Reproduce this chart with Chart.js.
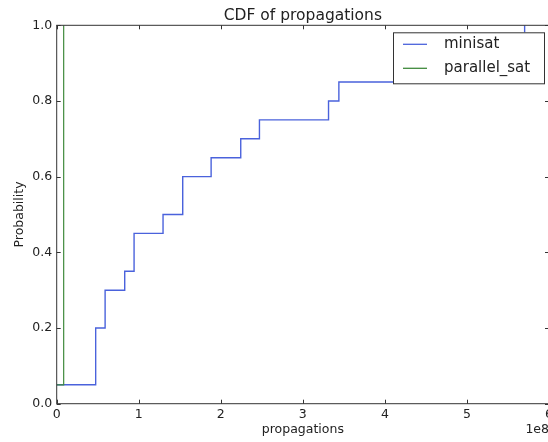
<!DOCTYPE html>
<html>
<head>
<meta charset="utf-8">
<script src="https://cdn.jsdelivr.net/npm/chart.js@4"></script>
<style>
  html, body { margin: 0; padding: 0; background: #fff; overflow: hidden; }
  #cdfChart { display: block; }
</style>
</head>
<body>
<canvas id="cdfChart" width="552" height="442"></canvas>
<script>
// CDF of propagations (x in units of 1e8)
const minisatX = [0, 0.475, 0.59, 0.829, 0.943, 1.296, 1.536, 1.882, 2.243, 2.471, 3.313, 3.439, 5.703];
const minisatY = [0.05, 0.2, 0.3, 0.35, 0.45, 0.5, 0.6, 0.65, 0.7, 0.75, 0.8, 0.85, 1.0];
const parallelX = [0, 0.085];
const parallelY = [0.05, 1.0];

const xTicks = [0, 1, 2, 3, 4, 5, 6];
const yTicks = [0.0, 0.2, 0.4, 0.6, 0.8, 1.0];
const seriesNames = ['minisat', 'parallel_sat'];
const seriesColors = ['#4a62dc', '#3f8a3c'];

const FONT = 'DejaVu Sans';
const toPoints = (xs, ys) => xs.map((x, i) => ({ x: x, y: ys[i] }));

// frame + inward tick marks + "1e8" offset text + boxed legend
const framePlugin = {
    id: 'frame',
    afterDraw(chart) {
        const { ctx, chartArea: a, scales } = chart;
        ctx.save();
        ctx.strokeStyle = '#333';
        ctx.lineWidth = 1;
        ctx.strokeRect(a.left, a.top, a.right - a.left, a.bottom - a.top);

        const len = 4;
        ctx.beginPath();
        xTicks.forEach(v => {
            const px = Math.round(scales.x.getPixelForValue(v)) + 0.5;
            ctx.moveTo(px, a.bottom); ctx.lineTo(px, a.bottom - len);
            ctx.moveTo(px, a.top); ctx.lineTo(px, a.top + len);
        });
        yTicks.forEach(v => {
            const py = Math.round(scales.y.getPixelForValue(v)) + 0.5;
            ctx.moveTo(a.left, py); ctx.lineTo(a.left + len, py);
            ctx.moveTo(a.right, py); ctx.lineTo(a.right - len, py);
        });
        ctx.stroke();

        ctx.fillStyle = '#222';
        ctx.font = '12.5px "' + FONT + '"';
        ctx.textAlign = 'right';
        ctx.textBaseline = 'middle';
        ctx.fillText('1e8', a.right, 430);

        // legend box in the upper right corner
        const bx = a.right - 156, by = a.top + 7, bw = 151, bh = 51;
        ctx.fillStyle = '#fff';
        ctx.fillRect(bx, by, bw, bh);
        ctx.strokeRect(bx + 0.5, by + 0.5, bw, bh);
        ctx.font = '15px "' + FONT + '"';
        ctx.textAlign = 'left';
        seriesNames.forEach((name, i) => {
            const ly = by + 12 + i * 24;
            ctx.strokeStyle = seriesColors[i];
            ctx.lineWidth = 1.3;
            ctx.beginPath();
            ctx.moveTo(bx + 10, ly); ctx.lineTo(bx + 34, ly);
            ctx.stroke();
            ctx.fillStyle = '#222';
            ctx.fillText(name, bx + 51, ly);
        });
        ctx.restore();
    }
};

new Chart(document.getElementById('cdfChart'), {
    type: 'scatter',
    data: {
        datasets: [{
            label: seriesNames[0],
            data: toPoints(minisatX, minisatY),
            showLine: true,
            stepped: 'before',
            borderColor: seriesColors[0],
            borderWidth: 1.4,
            pointRadius: 0,
            order: 2
        }, {
            label: seriesNames[1],
            data: toPoints(parallelX, parallelY),
            showLine: true,
            stepped: 'before',
            borderColor: seriesColors[1],
            borderWidth: 1.2,
            pointRadius: 0,
            order: 1
        }]
    },
    options: {
        responsive: false,
        animation: false,
        events: [],
        layout: { padding: { left: 0, right: 3, top: 0, bottom: 0 } },
        plugins: {
            legend: { display: false },
            tooltip: { enabled: false },
            title: {
                display: true,
                text: 'CDF of propagations',
                fullSize: false,
                color: '#222',
                font: { family: FONT, size: 15.5, weight: 'normal' },
                padding: { top: 6.7, bottom: 0 }
            }
        },
        scales: {
            x: {
                type: 'linear',
                min: 0,
                max: 6,
                afterFit: (s) => { s.height = 38.3; s.paddingLeft = 0; s.paddingRight = 0; },
                afterBuildTicks: (s) => { s.ticks = xTicks.map(v => ({ value: v })); },
                grid: { display: false, drawTicks: false },
                border: { display: false },
                ticks: {
                    padding: 4,
                    color: '#222',
                    autoSkip: false,
                    maxRotation: 0,
                    font: { family: FONT, size: 12.5 },
                    callback: (v) => String(v)
                },
                title: {
                    display: true,
                    text: 'propagations',
                    color: '#222',
                    font: { family: FONT, size: 12.5 },
                    padding: { top: 0, bottom: 4.5 }
                }
            },
            y: {
                type: 'linear',
                min: 0,
                max: 1,
                afterFit: (s) => { s.width = 56.7; s.paddingTop = 0; s.paddingBottom = 0; },
                afterBuildTicks: (s) => { s.ticks = yTicks.map(v => ({ value: v })); },
                grid: { display: false, drawTicks: false },
                border: { display: false },
                ticks: {
                    padding: 4.5,
                    color: '#222',
                    autoSkip: false,
                    font: { family: FONT, size: 12.5 },
                    callback: (v) => Number(v).toFixed(1)
                },
                title: {
                    display: true,
                    text: 'Probability',
                    color: '#222',
                    font: { family: FONT, size: 12.5 },
                    padding: { top: 12.5, bottom: 0 }
                }
            }
        }
    },
    plugins: [framePlugin]
});
</script>
</body>
</html>
